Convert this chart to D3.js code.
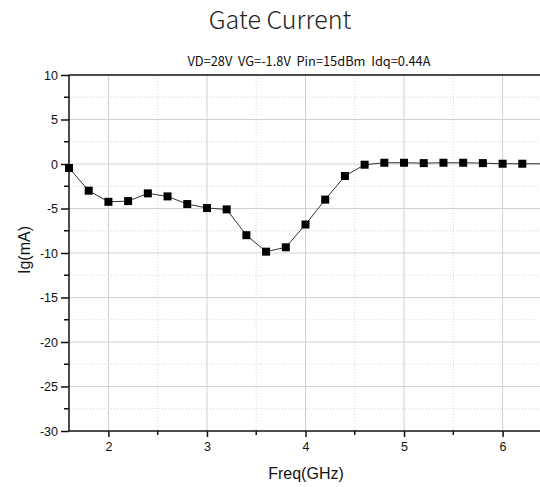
<!DOCTYPE html>
<html><head><meta charset="utf-8">
<script src="https://cdn.jsdelivr.net/npm/d3@7"></script>
<style>body{margin:0;background:#fff;overflow:hidden}</style>
</head><body>
<script>
const freq = [1.6,1.8,2.0,2.2,2.4,2.6,2.8,3.0,3.2,3.4,3.6,3.8,4.0,4.2,4.4,4.6,4.8,5.0,5.2,5.4,5.6,5.8,6.0,6.2,6.4];
const ig   = [-0.45,-3.0,-4.25,-4.17,-3.3,-3.64,-4.5,-4.95,-5.1,-8.0,-9.85,-9.36,-6.8,-4.0,-1.35,-0.08,0.14,0.14,0.1,0.14,0.14,0.1,0.03,0.03,0.02];
const xTicks = [2,3,4,5,6];
const yTicks = [10,5,0,-5,-10,-15,-20,-25,-30];
const title = "Gate Current";
const subtitle = "VD=28V  VG=-1.8V  Pin=15dBm  Idq=0.44A";
const xLabel = "Freq(GHz)", yLabel = "Ig(mA)";

const W = 540, H = 487;
const svg = d3.select("body").append("svg").attr("width", W).attr("height", H);
const x = d3.scaleLinear().domain([1.6, 6.4]).range([69, 542]);
const y = d3.scaleLinear().domain([-30, 10]).range([431, 75]);

const xMinor = d3.range(1.5, 6.6, 0.5).filter(v => v > 1.6 && v < 6.4 && !xTicks.includes(v));
const yMinor = d3.range(-27.5, 10, 5);

const g = svg.append("g");
g.selectAll(".xm").data(xMinor).join("line")
  .attr("x1", d => x(d)).attr("x2", d => x(d)).attr("y1", y(10)).attr("y2", y(-30))
  .attr("stroke", "#d4d4d4").attr("stroke-width", 1).attr("stroke-dasharray", "1,2");
g.selectAll(".ym").data(yMinor).join("line")
  .attr("x1", x(1.6)).attr("x2", x(6.4)).attr("y1", d => y(d)).attr("y2", d => y(d))
  .attr("stroke", "#d4d4d4").attr("stroke-width", 1).attr("stroke-dasharray", "1,2");
g.selectAll(".xg").data(xTicks).join("line")
  .attr("x1", d => x(d)).attr("x2", d => x(d)).attr("y1", y(10)).attr("y2", y(-30))
  .attr("stroke", "#d0d0d0").attr("stroke-width", 1);
g.selectAll(".yg").data(yTicks.filter(v => v > -30 && v < 10)).join("line")
  .attr("x1", x(1.6)).attr("x2", x(6.4)).attr("y1", d => y(d)).attr("y2", d => y(d))
  .attr("stroke", "#d0d0d0").attr("stroke-width", 1);

svg.append("line").attr("x1", x(1.6)).attr("x2", x(6.4)).attr("y1", y(10)).attr("y2", y(10))
  .attr("stroke", "#111").attr("stroke-width", 1.5);
svg.append("line").attr("x1", x(6.4)).attr("x2", x(6.4)).attr("y1", y(10)).attr("y2", y(-30))
  .attr("stroke", "#111").attr("stroke-width", 1.5);

const fontAx = "'Liberation Sans', Arial, sans-serif";
const xAxis = svg.append("g").attr("transform", `translate(0,${y(-30)})`)
  .call(d3.axisBottom(x).tickValues(xTicks).tickSize(6).tickPadding(5).tickFormat(d => String(d)));
xAxis.append("g").selectAll("line").data(xMinor).join("line")
  .attr("x1", d => x(d)).attr("x2", d => x(d)).attr("y1", 0).attr("y2", 4).attr("stroke", "#111").attr("stroke-width", 1.5);
const yAxis = svg.append("g").attr("transform", `translate(${x(1.6)},0)`)
  .call(d3.axisLeft(y).tickValues(yTicks).tickSize(8).tickPadding(3).tickFormat(d => String(d)));
yAxis.append("g").selectAll("line").data(yMinor).join("line")
  .attr("y1", d => y(d)).attr("y2", d => y(d)).attr("x1", 0).attr("x2", -5).attr("stroke", "#111").attr("stroke-width", 1.5);
[xAxis, yAxis].forEach(a => {
  a.select(".domain").attr("stroke", "#111").attr("stroke-width", 1.5);
  a.selectAll(".tick line").attr("stroke", "#111").attr("stroke-width", 1.5);
  a.selectAll("text").attr("font-family", fontAx).attr("font-size", 12.5).attr("fill", "#111");
});
xAxis.select(".domain").attr("d", `M${x(1.6)},0H${x(6.4)}`);
yAxis.select(".domain").attr("d", `M0,${y(10)}V${y(-30)}`);

const line = d3.line().x((d, i) => x(freq[i])).y(d => y(d));
svg.append("path").datum(ig).attr("d", line).attr("fill", "none").attr("stroke", "#333").attr("stroke-width", 1);
svg.selectAll(".pt").data(ig.slice(0, 24)).join("rect")
  .attr("x", (d, i) => x(freq[i]) - 4).attr("y", d => y(d) - 4).attr("width", 8).attr("height", 8)
  .attr("fill", "#000");

svg.append("text").attr("x", 280).attr("y", 29).attr("text-anchor", "middle")
  .attr("font-family", "'Noto Sans CJK SC', 'Noto Sans', sans-serif").attr("font-weight", 300)
  .attr("font-size", 25).attr("fill", "#222").text(title);
svg.append("text").attr("x", 309).attr("y", 66).attr("text-anchor", "middle")
  .attr("font-family", "'Noto Sans CJK SC', 'Noto Sans', sans-serif")
  .attr("font-size", 12.8).attr("fill", "#111").style("white-space", "pre").text(subtitle);
svg.append("text").attr("x", 306).attr("y", 479).attr("text-anchor", "middle")
  .attr("font-family", fontAx).attr("font-size", 16).attr("fill", "#111").text(xLabel);
svg.append("text").attr("transform", `translate(30,250) rotate(-90)`).attr("text-anchor", "middle")
  .attr("font-family", fontAx).attr("font-size", 16).attr("fill", "#111").text(yLabel);
</script>
</body></html>
